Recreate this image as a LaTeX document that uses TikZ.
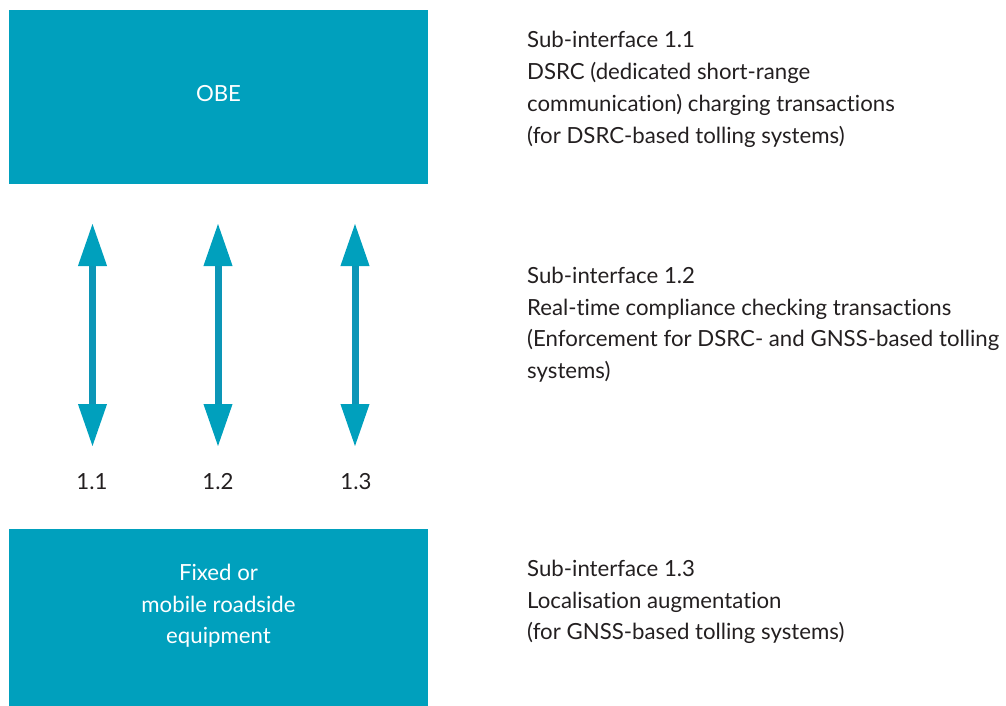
\documentclass[tikz,border=0pt]{standalone}
\usepackage{fontspec}
\setmainfont[Ligatures=NoCommon]{Lato}
\usetikzlibrary{arrows.meta}
\definecolor{boxcol}{RGB}{0,160,189}
\definecolor{shaftcol}{RGB}{12,150,183}
\definecolor{txtcol}{RGB}{35,31,32}
\newlength\myreflen
\AtBeginDocument{%
  \settowidth\myreflen{\fontsize{10}{12}\selectfont (Enforcement for DSRC- and GNSS-based tolling}%
  \pgfmathsetmacro\myfs{10*472/\myreflen}%
  \xdef\myfs{\myfs}}
\begin{document}
\begin{tikzpicture}[x=1pt,y=-1pt]
\tikzset{
  bluebox/.style={fill=boxcol, draw=none, inner sep=0pt, minimum width=419pt},
  boxtext/.style={text=white, align=center, inner sep=0pt, font=\fontsize{\myfs}{31.7}\selectfont},
  desc/.style={text=txtcol, anchor=base west, inner sep=0pt, font=\fontsize{\myfs}{31.7}\selectfont},
  numlbl/.style={text=txtcol, inner sep=0pt, font=\fontsize{\myfs}{31.7}\selectfont},
  dblarrow/.style={draw=shaftcol, line width=7pt,
    {Triangle[length=43pt,width=27pt,color=boxcol]}-{Triangle[length=43pt,width=27pt,color=boxcol]}}
}
\useasboundingbox (0,0) rectangle (1006,706);
% boxes
\node[bluebox, minimum height=174pt] (obe) at (218.5,97) {};
\node[boxtext] (obetext) at (218.5,94) {OBE};
\node[bluebox, minimum height=177pt] (rse) at (218.5,617.5) {};
\node[boxtext] (rsetext) at (218.5,606) {Fixed or\\mobile roadside\\equipment};
% arrows
\coordinate (t1) at (92.5,223); \coordinate (b1) at (92.5,447);
\coordinate (t2) at (218,223);  \coordinate (b2) at (218,447);
\coordinate (t3) at (355,223);  \coordinate (b3) at (355,447);
\draw[dblarrow] (t1) -- (b1);
\draw[dblarrow] (t2) -- (b2);
\draw[dblarrow] (t3) -- (b3);
% labels
\node[numlbl] (l1) at (92,482) {1.1};
\node[numlbl] (l2) at (218,482) {1.2};
\node[numlbl] (l3) at (356,482) {1.3};
% descriptions
\node[desc] (a1) at (527,48) {Sub-interface 1.1};
\node[desc] (a2) at (527,80) {DSRC (dedicated short-range};
\node[desc] (a3) at (527,111.5) {communication) charging transactions};
\node[desc] (a4) at (527,143) {(for DSRC-based tolling systems)};
\node[desc] (b1t) at (527,283) {Sub-interface 1.2};
\node[desc] (b2t) at (527,315) {Real-time compliance checking transactions};
\node[desc] (b3t) at (527,346.5) {(Enforcement for DSRC- and GNSS-based tolling};
\node[desc] (b4t) at (527,378) {systems)};
\node[desc] (c1) at (527,576) {Sub-interface 1.3};
\node[desc] (c2) at (527,608) {Localisation augmentation};
\node[desc] (c3) at (527,639.5) {(for GNSS-based tolling systems)};
\end{tikzpicture}
\end{document}
